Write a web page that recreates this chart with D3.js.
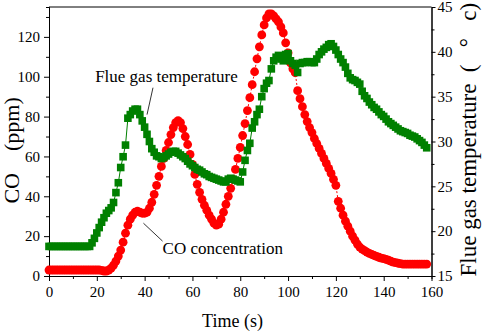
<!DOCTYPE html>
<html>
<head>
<meta charset="utf-8">
<script src="https://cdn.jsdelivr.net/npm/d3@7"></script>
<style>
  body { margin: 0; background: #fff; }
  svg text { font-family: "Liberation Serif", "Times New Roman", serif; }
</style>
</head>
<body>
<svg id="chart" width="484" height="335"></svg>
<script>
// CO concentration (ppm), one reading per second from t = 0 s
var coValues = [
  3, 3, 3, 3, 3, 3, 3, 3, 3, 3, 3, 3, 3, 3, 3, 3, 3, 3, 3, 3, 3, 3, 2.8,
  2.5, 2.5, 3, 4, 5.5, 7.5, 10, 13, 17, 21.5, 25.5, 28.5, 30.5, 32, 32.5, 32,
  31.5, 31.5, 32, 34, 37, 41, 45.5, 50, 55, 59, 63, 67, 71, 74.5, 77, 78,
  77, 74, 70, 66, 61, 56, 51, 46, 42, 38.5, 35.5, 33, 30.5, 28.5, 26.5, 25.5,
  26, 28.5, 32, 36, 40, 44, 48.5, 53.5, 59, 64.5, 70.5, 76.5, 83, 89.5, 96,
  102.5, 109, 115, 121, 126, 129.5, 131.5, 131.5, 130.5, 129, 127.5, 125, 122,
  117, 112, 107, 104, 102, 93, 89, 85, 81, 77.5, 74.5, 72, 69, 66.5, 64, 61.5,
  59, 56.5, 54, 51.5, 48.5, 45.5, 37.5, 34, 30.5, 27.5, 25, 22.5, 20, 18, 16,
  14.5, 13.5, 12.7, 12, 11.4, 10.8, 10.3, 9.8, 9.4, 9, 8.7, 8.3, 7.9, 7.4, 7,
  6.7, 6.4, 6.2, 6, 6, 6, 6, 6, 6, 6, 6, 6, 6, 6
];

// flue gas temperature (deg C), same time base
var tempValues = [
  18.3, 18.3, 18.3, 18.3, 18.3, 18.3, 18.3, 18.3, 18.3, 18.3, 18.3, 18.3,
  18.3, 18.3, 18.3, 18.3, 18.3, 18.3,
  18.7, 19.2, 19.8, 20.4, 21.0, 21.5, 22.0, 22.3, 22.6, 23.2, 24.3, 25.4,
  27.1, 28.3, 29.6, 32.6, 33.0, 33.4, 33.6, 33.6, 33.0, 32.3, 31.6, 30.8,
  30.0, 29.2, 28.8,
  28.4, 28.3, 28.1, 28.2, 28.4, 28.6, 28.8, 28.9, 28.9, 28.7, 28.5, 28.3,
  28.1, 27.8, 27.5, 27.3, 27.1, 26.9, 26.8, 26.6, 26.4, 26.3, 26.1, 26.0,
  25.9, 25.8, 25.7, 25.6, 25.5, 25.5, 25.8, 25.9, 25.8, 25.7, 25.6,
  25.5, 26.6, 27.9, 29.0, 29.8, 31.5, 32.2, 33.0, 33.6, 35.0, 35.9, 36.5,
  36.8, 38.1, 39.0, 39.4, 39.6, 39.2, 39.0, 39.7, 39.8, 39.0, 38.7, 38.5,
  37.7, 38.7, 38.8, 38.8, 38.9, 38.9, 38.8, 38.8, 39.2, 39.7, 40.0, 40.3,
  40.5, 40.8, 40.9, 40.6, 40.2, 39.7, 39.2, 38.8, 38.3, 37.6, 37.1, 36.9,
  36.8, 36.6, 36.4, 35.6, 35.1, 34.8, 34.4, 34.1, 33.8, 33.6, 33.3, 33.0,
  32.8, 32.5, 32.2, 32.0, 31.8, 31.6, 31.4, 31.2, 31.1, 31.0, 30.9, 30.7,
  30.6, 30.5, 30.3, 30.1, 29.9, 29.6, 29.3
];

var sampleStep = 1; // seconds between readings

var timeTicks = [0, 20, 40, 60, 80, 100, 120, 140, 160];
var coTicks = [0, 20, 40, 60, 80, 100, 120];
var tempTicks = [15, 20, 25, 30, 35, 40, 45];

var margin = {top: 7, right: 52.5, bottom: 59, left: 49};
var svg = d3.select("#chart");
var width = +svg.attr("width") - margin.left - margin.right;
var height = +svg.attr("height") - margin.top - margin.bottom;

var g = svg.append("g")
  .attr("transform", "translate(" + margin.left + "," + margin.top + ")");

var x = d3.scaleLinear().domain([0, 160]).range([0, width]);
var yCO = d3.scaleLinear().domain([0, 135]).range([height, 0]);
var yT = d3.scaleLinear().domain([15, 45]).range([height, 0]);

var coData = coValues.map((v, i) => ({t: i * sampleStep, v: v}));
var tData = tempValues.map((v, i) => ({t: i * sampleStep, v: v}));

// minor ticks halfway between the labelled ones
function minors(ticks) {
  var out = [];
  for (var i = 0; i < ticks.length - 1; i++) out.push((ticks[i] + ticks[i + 1]) / 2);
  return out;
}

// axes
g.append("g")
  .attr("class", "axis")
  .attr("transform", "translate(0," + height + ")")
  .call(d3.axisBottom(x).tickValues(timeTicks).tickSize(5).tickSizeOuter(0).tickPadding(5));
g.append("g")
  .attr("class", "axis minor")
  .attr("transform", "translate(0," + height + ")")
  .call(d3.axisBottom(x).tickValues(minors(timeTicks)).tickSize(3).tickFormat(""));

g.append("g")
  .attr("class", "axis")
  .call(d3.axisLeft(yCO).tickValues(coTicks).tickSize(5).tickSizeOuter(0).tickPadding(4));
g.append("g")
  .attr("class", "axis minor")
  .call(d3.axisLeft(yCO).tickValues(minors(coTicks).concat([130])).tickSize(3).tickFormat(""));

g.append("g")
  .attr("class", "axis")
  .attr("transform", "translate(" + width + ",0)")
  .call(d3.axisRight(yT).tickValues(tempTicks).tickSize(4).tickSizeOuter(0).tickPadding(2));
g.append("g")
  .attr("class", "axis minor")
  .attr("transform", "translate(" + width + ",0)")
  .call(d3.axisRight(yT).tickValues(minors(tempTicks)).tickSize(3).tickFormat(""));

// top border
g.append("line")
  .attr("x1", 0).attr("x2", width)
  .attr("y1", 0).attr("y2", 0)
  .attr("stroke", "#000");

g.selectAll(".axis").attr("font-family", null);
g.selectAll(".axis path, .axis line").attr("stroke", "#000").attr("stroke-width", 1);
g.selectAll(".axis text")
  .attr("fill", "#000")
  .style("font-size", "15px");

// CO series: dotted red line with circles
g.append("path")
  .datum(coData)
  .attr("fill", "none")
  .attr("stroke", "#ff0000")
  .attr("stroke-width", 1)
  .attr("stroke-dasharray", "2,2")
  .attr("d", d3.line().x(d => x(d.t)).y(d => yCO(d.v)));

g.selectAll(".co")
  .data(coData)
  .enter()
  .append("circle")
  .attr("class", "co")
  .attr("cx", d => x(d.t))
  .attr("cy", d => yCO(d.v))
  .attr("r", 4.4)
  .attr("fill", "#ff0000");

// temperature series: thin green line with squares
g.append("path")
  .datum(tData)
  .attr("fill", "none")
  .attr("stroke", "#008000")
  .attr("stroke-width", 1)
  .attr("d", d3.line().x(d => x(d.t)).y(d => yT(d.v)));

var sq = 7.6;
g.selectAll(".temp")
  .data(tData)
  .enter()
  .append("rect")
  .attr("class", "temp")
  .attr("x", d => x(d.t) - sq / 2)
  .attr("y", d => yT(d.v) - sq / 2)
  .attr("width", sq)
  .attr("height", sq)
  .attr("fill", "#008000");

// annotations
g.append("text")
  .attr("x", x(19.3))
  .attr("y", yCO(100) + 5)
  .style("font-size", "17px")
  .text("Flue gas temperature");
g.append("line")
  .attr("x1", x(43.5)).attr("y1", yCO(94.5))
  .attr("x2", x(41)).attr("y2", yCO(81))
  .attr("stroke", "#000").attr("stroke-width", 0.8);

g.append("text")
  .attr("x", x(47.5))
  .attr("y", yCO(13.5) + 5)
  .style("font-size", "17px")
  .text("CO concentration");
g.append("line")
  .attr("x1", x(39.5)).attr("y1", yCO(26.5))
  .attr("x2", x(47.5)).attr("y2", yCO(17.5))
  .attr("stroke", "#000").attr("stroke-width", 0.8);

// axis titles
svg.append("text")
  .attr("transform", "translate(19," + (margin.top + yCO(63)) + ") rotate(-90)")
  .attr("text-anchor", "middle")
  .style("font-size", "22px")
  .style("white-space", "pre")
  .text("CO    (ppm)");

svg.append("text")
  .attr("transform", "translate(476," + (margin.top + yT(30.2)) + ") rotate(-90)")
  .attr("text-anchor", "middle")
  .style("font-size", "23px")
  .style("white-space", "pre")
  .text("Flue gas temperature  (   \u00b0   c)");

svg.append("text")
  .attr("x", 232.5)
  .attr("y", 327)
  .attr("text-anchor", "middle")
  .style("font-size", "18px")
  .text("Time (s)");
</script>
</body>
</html>
